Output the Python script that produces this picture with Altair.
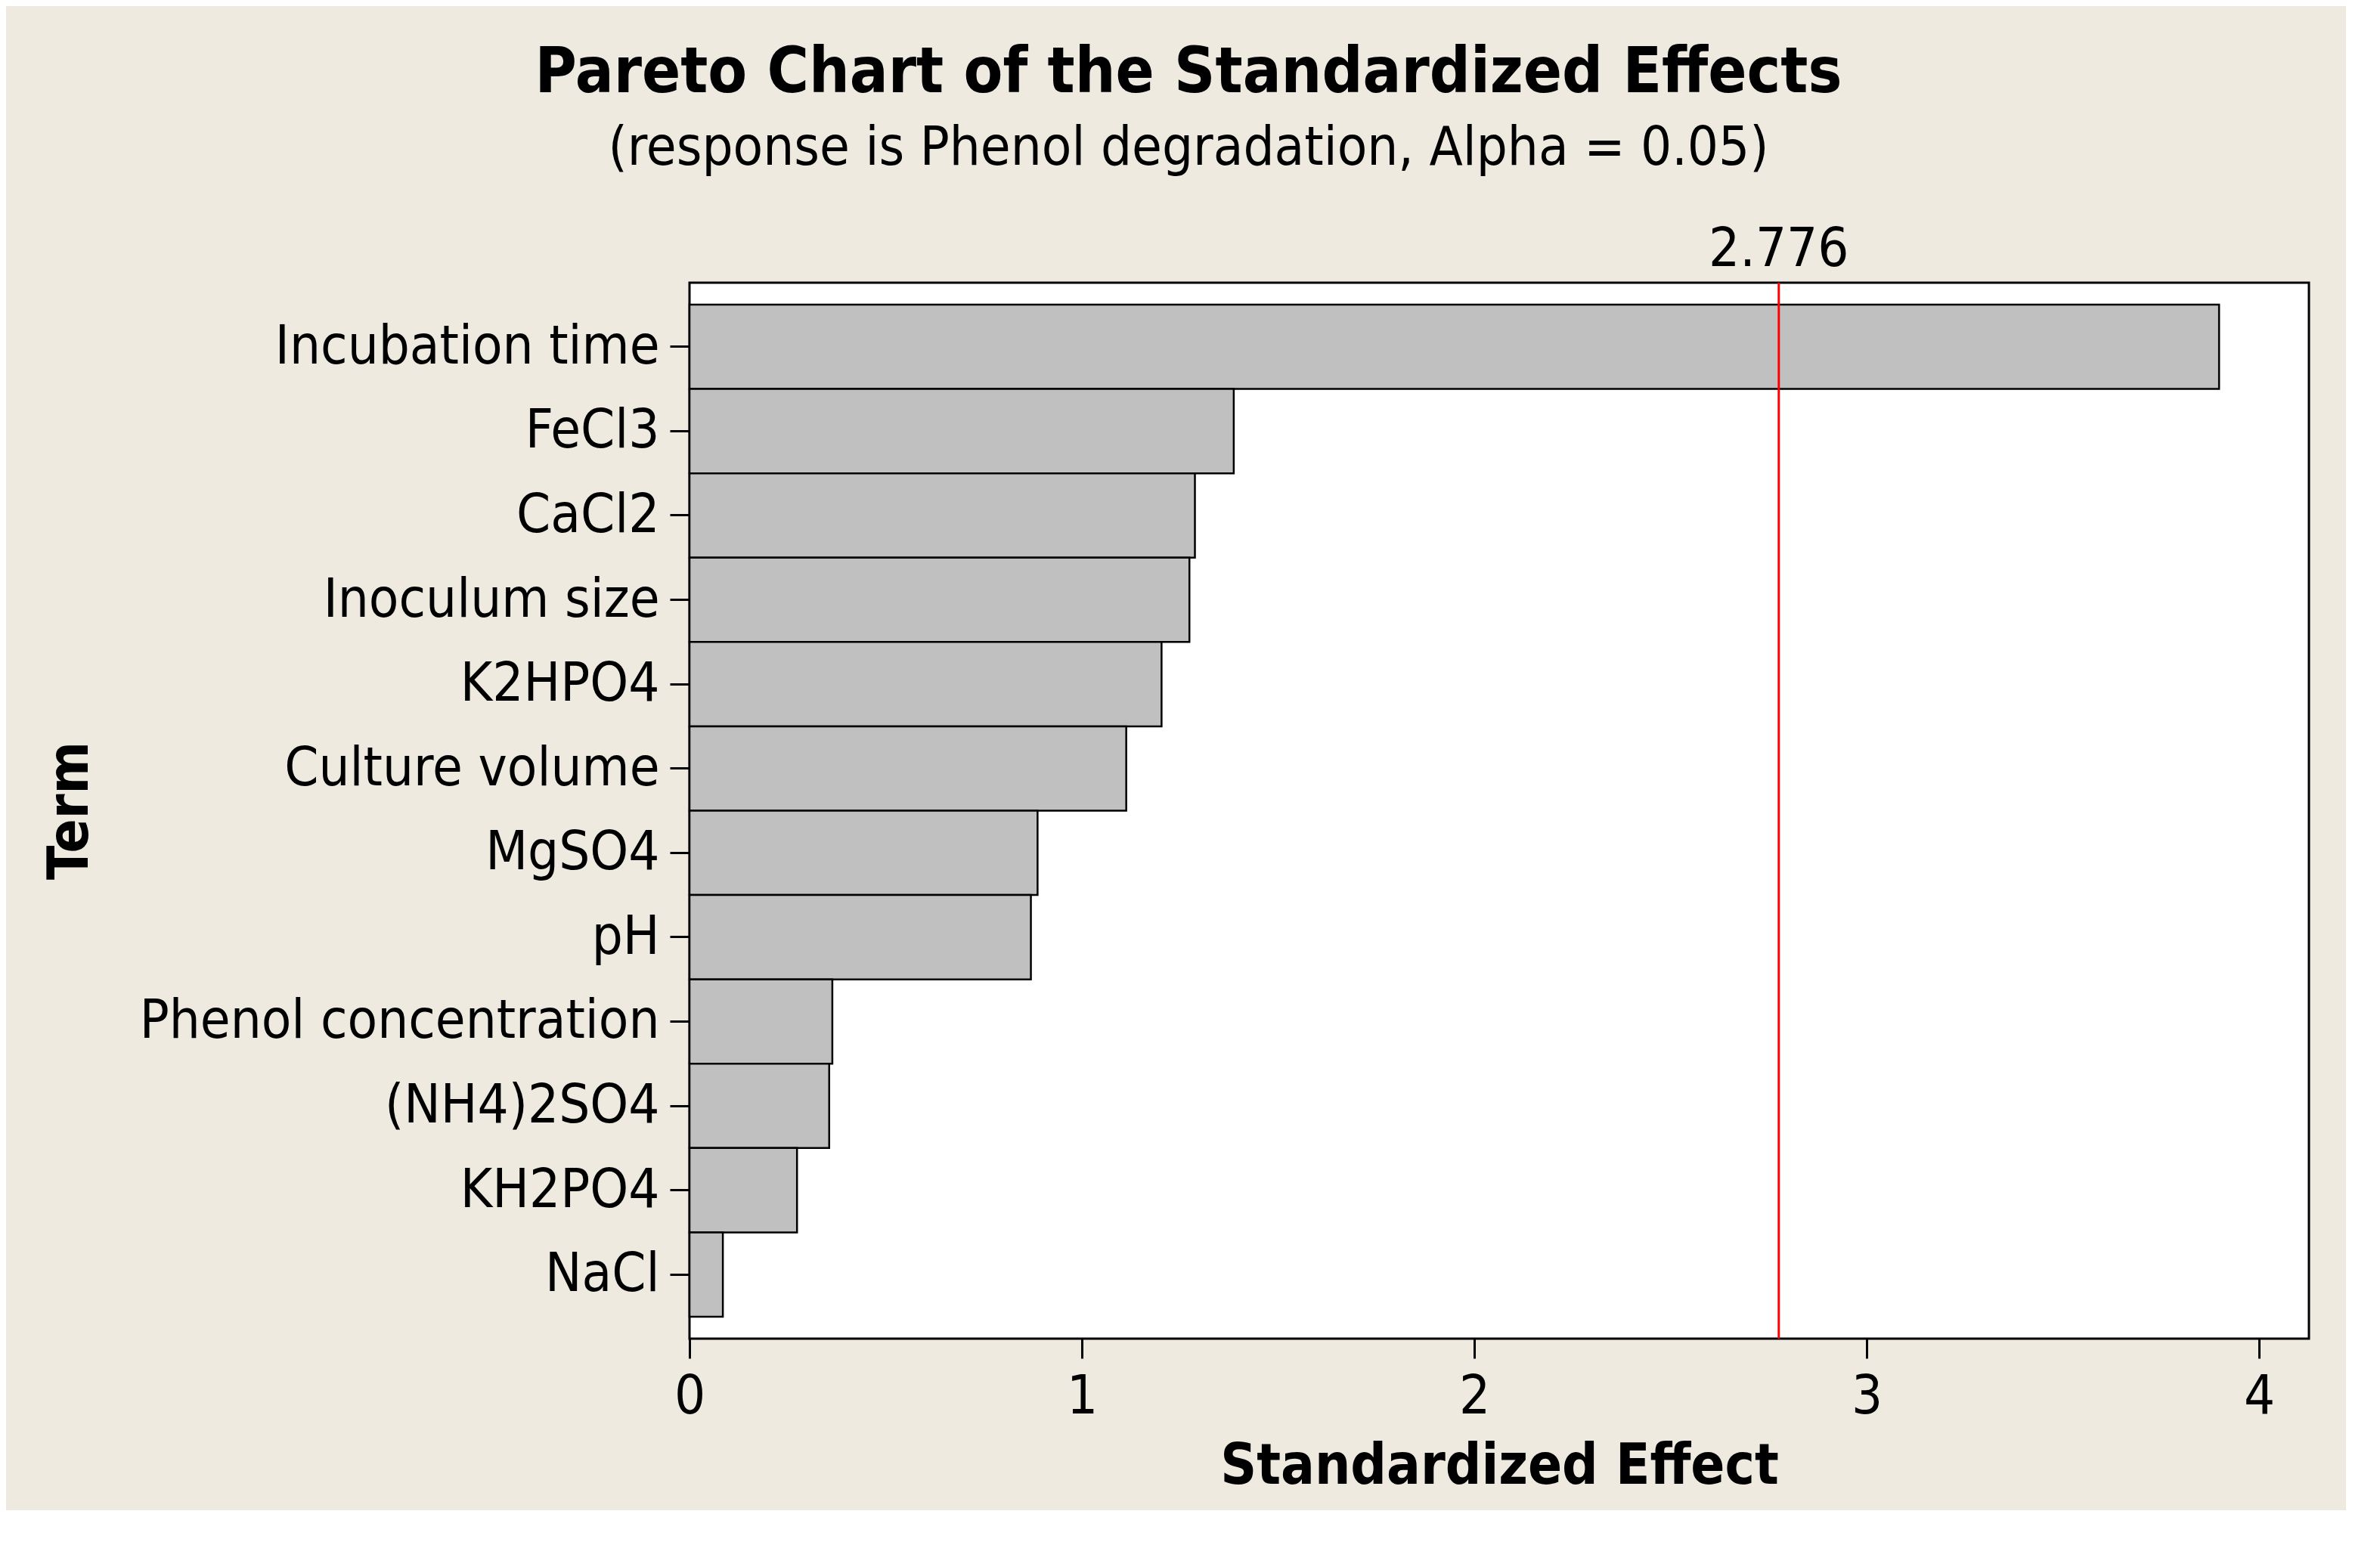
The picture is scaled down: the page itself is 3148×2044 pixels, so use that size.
import altair as alt
import pandas as pd

terms = ["Incubation time", "FeCl3", "CaCl2", "Inoculum size", "K2HPO4",
         "Culture volume", "MgSO4", "pH", "Phenol concentration",
         "(NH4)2SO4", "KH2PO4", "NaCl"]
effects = [3.898, 1.387, 1.288, 1.274, 1.203, 1.113, 0.887, 0.870,
           0.364, 0.356, 0.274, 0.085]
critical = [2.776]
critical_label = ["2.776"]
x_ticks = [0, 1, 2, 3, 4]

df = pd.DataFrame({"Term": terms, "Effect": effects})
ref = pd.DataFrame({"Effect": critical, "label": critical_label})

FONT = "DejaVu Sans Condensed"
x_scale = alt.Scale(domain=[0, 4.127], nice=False, zero=True)

bars = alt.Chart(df).mark_bar(
    color="#C0C0C0", stroke="black", strokeWidth=2.5
).encode(
    x=alt.X("Effect:Q", scale=x_scale, title="Standardized Effect",
            axis=alt.Axis(values=x_ticks, grid=False, domain=False,
                          tickSize=26, tickWidth=3, tickColor="black",
                          labelFont=FONT, labelFontSize=72, labelColor="black",
                          labelPadding=15, format="d", labelFlush=False,
                          labelOverlap=False,
                          titleFont=FONT, titleFontSize=74, titleFontWeight="bold",
                          titleColor="black", titleBaseline="alphabetic", titleY=191)),
    y=alt.Y("Term:N", sort=terms, title="Term",
            scale=alt.Scale(paddingInner=0, paddingOuter=0.26),
            axis=alt.Axis(grid=False, domain=False, tickSize=26, tickWidth=3,
                          tickColor="black", labelFont=FONT, labelFontSize=72,
                          labelColor="black", labelPadding=14, labelLimit=2000,
                          titleFont=FONT, titleFontSize=74, titleFontWeight="bold",
                          titleColor="black", titleBaseline="alphabetic",
                          titleAngle=270, titleX=-797, titleY=698)),
)

rule = alt.Chart(ref).mark_rule(color="#FF0000", strokeWidth=3).encode(
    x=alt.X("Effect:Q", scale=x_scale, title="Standardized Effect")
)

label = alt.Chart(ref).mark_text(
    baseline="alphabetic", align="center", font=FONT, fontSize=72, color="black"
).encode(
    x=alt.X("Effect:Q", scale=x_scale, title="Standardized Effect"),
    y=alt.value(-22),
    text="label:N",
)

chart = alt.layer(bars, rule, label).properties(
    width=2142,
    height=1397,
    autosize=alt.AutoSizeParams(type="none"),
    padding={"left": 904, "top": 366, "right": 49, "bottom": 227},
    background="#EEEAE0",
    title=alt.TitleParams(
        text="Pareto Chart of the Standardized Effects",
        subtitle="(response is Phenol degradation, Alpha = 0.05)",
        font=FONT, fontSize=84, fontWeight="bold", color="black",
        subtitleFont=FONT, subtitleFontSize=72, subtitleColor="black",
        subtitlePadding=21, anchor="middle", dx=-411, offset=61,
    ),
).configure_view(fill="white", stroke="black", strokeWidth=3)

chart.save("out.html", embed_options={"renderer": "svg", "actions": False})
